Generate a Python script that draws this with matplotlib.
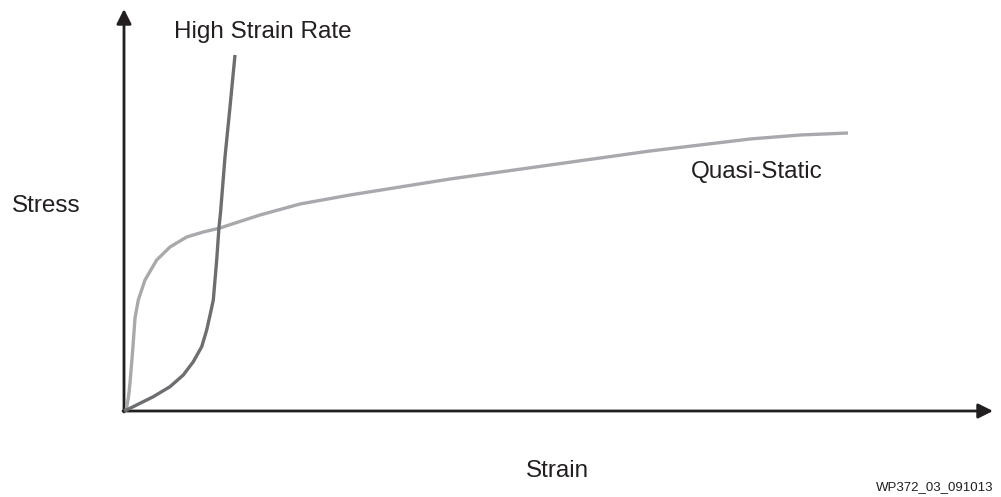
import matplotlib.pyplot as plt

plt.rcParams['font.family'] = ['Liberation Sans', 'DejaVu Sans']

# Schematic stress-strain curves (arbitrary units)
high_rate_strain = [0.0, 0.6, 1.6, 2.93, 4.6, 5.93, 6.93, 7.77, 8.27, 8.65,
                    8.93, 9.27, 9.5, 9.65, 10.1, 10.6, 11.1]
high_rate_stress = [0.0, 0.27, 0.77, 1.43, 2.43, 3.6, 4.93, 6.43, 8.1, 9.8,
                    11.1, 15.1, 18.4, 19.8, 25.4, 30.4, 35.6]

quasi_strain = [0.2, 0.45, 0.6, 0.87, 1.1, 1.43, 2.1, 3.27, 4.6, 6.27, 7.93,
                9.6, 11.43, 13.6, 17.6, 22.6, 27.6, 32.6, 37.6, 42.6, 47.6,
                52.6, 57.6, 62.6, 67.6, 72.4]
quasi_stress = [0.0, 1.4, 2.8, 6.1, 9.3, 11.1, 13.1, 15.1, 16.4, 17.4, 17.9,
                18.3, 18.9, 19.6, 20.7, 21.6, 22.4, 23.2, 23.9, 24.6, 25.3,
                26.0, 26.6, 27.2, 27.6, 27.8]

x_end = 86.9
y_end = 40.2

fig = plt.figure(figsize=(10.01, 4.97), dpi=100)
ax = fig.add_axes([0, 0, 1, 1])
ax.set_xlim(-12.4, 87.7)
ax.set_ylim(-8.6, 41.1)
ax.axis('off')

# Axes with arrow heads
arrow = dict(arrowstyle='-|>', color='#231f20', lw=2.0,
             mutation_scale=22, shrinkA=0, shrinkB=0)
ax.annotate('', xy=(x_end, 0), xytext=(-0.1, 0), arrowprops=arrow)
ax.annotate('', xy=(0, y_end), xytext=(0, -0.1), arrowprops=arrow)

ax.plot(quasi_strain, quasi_stress, color='#a7a9ac', lw=2.4,
        solid_capstyle='butt', solid_joinstyle='round', zorder=3)
ax.plot(high_rate_strain, high_rate_stress, color='#6d6e71', lw=2.4,
        solid_capstyle='butt', solid_joinstyle='round', zorder=4)

ax.text(13.9, 37.9, 'High Strain Rate', fontsize=17.5, color='#231f20',
        ha='center', va='center')
ax.text(63.3, 23.9, 'Quasi-Static', fontsize=17.5, color='#231f20',
        ha='center', va='center')
ax.text(-7.75, 20.5, 'Stress', fontsize=17.5, color='#231f20',
        ha='center', va='center')
ax.text(43.3, -6.0, 'Strain', fontsize=17.5, color='#231f20',
        ha='center', va='center')
ax.text(86.9, -7.6, 'WP372_03_091013', fontsize=9.5, color='#231f20',
        ha='right', va='center')

fig.savefig('out.png', dpi=100)
